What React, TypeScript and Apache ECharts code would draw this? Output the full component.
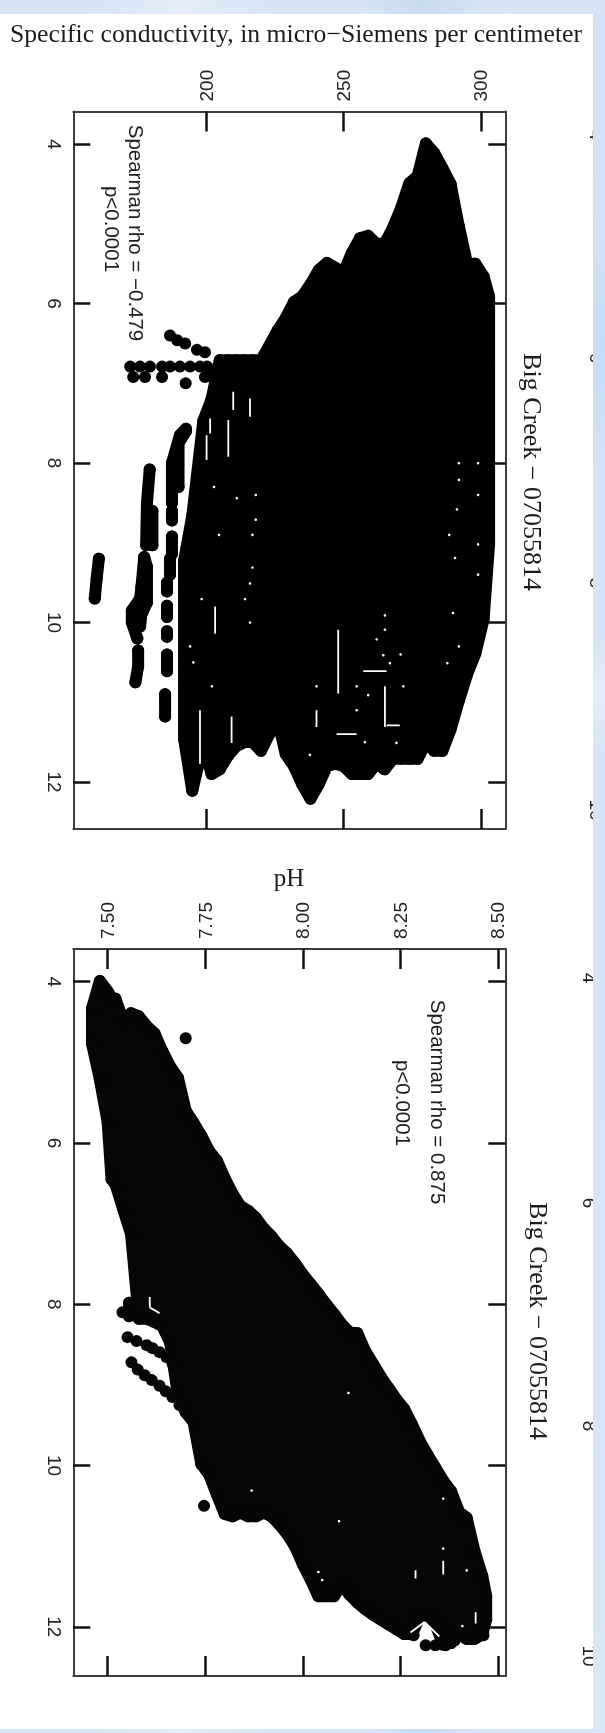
import React, { useEffect, useRef } from "react";
import * as echarts from "echarts";

const titleText = "Specific conductivity, in micro\u2212Siemens per centimeter";
const siteName = "Big Creek \u2212 07055814";
const temperatureTicks = [4, 6, 8, 10, 12];
const conductivityTicks = [200, 250, 300];
const phTicks = [7.5, 7.75, 8, 8.25, 8.5];
const strayLabelsA = ["4", "6", "8", "10"];

// Panel A main mass: [conductivity, temperature from, temperature to]
const panelARuns: number[][] = [
  [192, 9.23, 11.46], [195, 8.66, 12.11], [199, 7.47, 11.52], [202, 7.2, 11.9], [205, 6.71, 11.84],
  [208, 6.71, 11.67], [211, 6.71, 11.55], [214, 6.71, 11.5], [217, 6.71, 11.5], [220, 6.71, 11.61],
  [223, 6.53, 11.4], [226, 6.34, 11.21], [229, 6.18, 11.65], [232, 5.98, 11.8], [235, 5.91, 12.03],
  [238, 5.76, 12.21], [241, 5.58, 12.03], [244, 5.49, 11.8], [247, 5.55, 11.77], [250, 5.61, 11.8],
  [253, 5.37, 11.9], [256, 5.18, 11.9], [259, 5.15, 11.9], [262, 5.25, 11.77], [265, 5.25, 11.84],
  [268, 5.05, 11.71], [271, 4.8, 11.71], [274, 4.49, 11.71], [277, 4.4, 11.71], [280, 3.99, 11.5],
  [283, 4.11, 11.61], [286, 4.3, 11.61], [289, 4.5, 11.34], [292, 5.03, 10.98], [295, 5.5, 10.65],
  [298, 5.5, 10.39], [301, 5.66, 9.96], [303, 5.91, 9.02],
];
// Panel A detached strands of points
const panelAStrands: number[][][] = [
  [[179.5, 8.08], [178.5, 8.5], [178.2, 9.03]],
  [[180.5, 8.6], [180.5, 9.03]],
  [[177.5, 9.18], [178.5, 9.3], [178.5, 9.75], [176.5, 9.9], [176, 10.05]],
  [[177.5, 9.18], [176.5, 9.55], [176, 9.7], [173, 9.85], [173, 10.0], [175, 10.2]],
  [[175.3, 10.35], [175.3, 10.55], [174.3, 10.75]],
  [[192.7, 7.57], [190.5, 7.65], [187.6, 8.0], [187.6, 8.5]],
  [[192.7, 7.6], [190, 7.75], [190, 8.3]],
  [[187.6, 8.6], [187.6, 8.72]],
  [[187.6, 8.92], [187.6, 9.14]],
  [[186.9, 9.2], [186.9, 9.4]],
  [[185.8, 9.5], [185.8, 9.61]],
  [[185.8, 9.79], [185.8, 9.93]],
  [[185.8, 10.11], [185.8, 10.18]],
  [[185.8, 10.4], [185.8, 10.61]],
  [[185.1, 10.9], [185.1, 11.18]],
  [[161, 9.2], [160.2, 9.45], [159.5, 9.7]],
];
const panelADots: number[][] = [
  [186.9, 6.4], [189.5, 6.46], [192.4, 6.5], [196.7, 6.58], [199.6, 6.61],
  [172.4, 6.79], [176, 6.79], [179.6, 6.79], [184, 6.79], [186.9, 6.79], [190.5, 6.79], [194.2, 6.79], [197.8, 6.79], [200.4, 6.79],
  [173.5, 6.92], [177.8, 6.92], [184, 6.92], [199.6, 6.92], [192.6, 7.0], [202.5, 6.85],
];
const panelAGapLines: number[][] = [
  [209.9, 7.106, 209.9, 7.335], [216, 7.19, 216, 7.42], [201.5, 7.44, 201.5, 7.63], [200.2, 7.65, 200.2, 7.96],
  [208.1, 7.46, 208.1, 7.92], [203.3, 9.8, 203.3, 10.14], [197.8, 11.1, 197.8, 11.77], [209.3, 11.18, 209.3, 11.51],
  [240.2, 11.1, 240.2, 11.31], [248.1, 10.09, 248.1, 10.89], [247.5, 11.4, 254.8, 11.4],
  [257.2, 10.61, 265.7, 10.61], [265.1, 10.8, 265.1, 11.31], [265.7, 11.29, 270.5, 11.29],
];
const panelAGapDots: number[][] = [
  [202.9, 8.3], [218.1, 8.4], [211.2, 8.44], [218.1, 8.71], [204.7, 8.9], [216.9, 8.9], [216.9, 9.31],
  [198.4, 9.705], [216, 9.51], [214.2, 9.705], [216, 10], [195.4, 10.5], [194.2, 10.3], [202.1, 10.8],
  [240.2, 10.8], [254.8, 10.8], [259, 10.91], [254.8, 11.1], [269.3, 11.51], [257.8, 11.5],
  [265.1, 9.91], [265.1, 10.09], [262.1, 10.21], [264.5, 10.41], [270.8, 10.4], [266.9, 10.51], [271.8, 10.8], [237.8, 11.66],
  [292, 8], [292, 8.21], [291.3, 8.58], [299, 8], [299, 8.4], [290.6, 9.19], [299, 9.02], [299, 9.4],
  [288.5, 8.9], [289.9, 9.88], [292, 10.3], [287.8, 10.51],
];

// Panel B main mass: [pH, temperature from, temperature to]
const panelBRuns: number[][] = [
  [7.46, 4.33, 4.77], [7.48, 3.99, 5.21], [7.5, 4.12, 5.74], [7.51, 4.2, 6.45], [7.52, 4.21, 6.51],
  [7.54, 4.49, 6.82], [7.56, 4.39, 7.13], [7.58, 4.43, 8.18], [7.6, 4.55, 8.18], [7.62, 4.64, 8.22],
  [7.64, 4.86, 8.27], [7.66, 5.05, 8.47], [7.68, 5.19, 9.12], [7.7, 5.6, 9.34], [7.72, 5.75, 9.46],
  [7.74, 5.91, 9.98], [7.76, 6.1, 10.11], [7.78, 6.22, 10.36], [7.8, 6.44, 10.6], [7.82, 6.63, 10.63],
  [7.84, 6.78, 10.58], [7.86, 6.84, 10.63], [7.88, 6.93, 10.63], [7.9, 7.06, 10.58], [7.92, 7.16, 10.63],
  [7.94, 7.28, 10.73], [7.96, 7.37, 10.85], [7.98, 7.49, 11.0], [8, 7.63, 11.22], [8.02, 7.75, 11.41],
  [8.04, 7.87, 11.62], [8.06, 8.0, 11.62], [8.08, 8.12, 11.62], [8.1, 8.25, 11.47], [8.12, 8.35, 11.6],
  [8.14, 8.36, 11.7], [8.16, 8.58, 11.78], [8.18, 8.74, 11.85], [8.2, 8.9, 11.91], [8.22, 9.04, 11.97],
  [8.24, 9.18, 12.03], [8.26, 9.3, 12.09], [8.28, 9.49, 12.09], [8.3, 9.7, 11.87], [8.32, 9.87, 11.87],
  [8.34, 10.03, 11.97], [8.36, 10.19, 12.22], [8.38, 10.32, 12.2], [8.4, 10.57, 12.09], [8.42, 10.65, 12.15],
  [8.44, 11.06, 12.15], [8.46, 11.37, 12.09], [8.47, 11.62, 11.91],
];
const panelBStrands: number[][][] = [
  [[7.555, 7.98], [7.555, 8.15]],
];
const panelBDots: number[][] = [
  [7.7, 4.7], [7.538, 8.1], [7.747, 10.5],
  [7.551, 8.408], [7.574, 8.457], [7.6, 8.507], [7.615, 8.544], [7.633, 8.594], [7.651, 8.656], [7.666, 8.73],
  [7.561, 8.72], [7.577, 8.81], [7.595, 8.88], [7.613, 8.94], [7.633, 9.01], [7.649, 9.08], [7.666, 9.15], [7.684, 9.25],
  [8.284, 12.105], [8.315, 12.23], [8.34, 12.23], [8.366, 12.23], [8.389, 12.17], [8.463, 12.105],
];
const panelBGapLines: number[][] = [
  [7.608, 7.91, 7.608, 8.04], [7.608, 8.04, 7.633, 8.11], [8.276, 12.07, 8.312, 11.94], [8.312, 11.94, 8.35, 12.12],
  [8.443, 11.82, 8.443, 11.96], [8.36, 11.18, 8.36, 11.35], [8.289, 11.3, 8.289, 11.4],
];
const panelBGapDots: number[][] = [
  [8.409, 11.99], [8.36, 10.41], [8.093, 10.69], [8.117, 9.1], [7.869, 10.31], [8.42, 11.3], [8.36, 11.03], [8.04, 11.32], [8.05, 11.42],
];

const SERIF = "'Liberation Serif', serif";
const SANS = "'Liberation Sans', sans-serif";

function axisPair(index: number, ticks: number[], min: number, max: number, fmt: (v: number) => string) {
  const base = { gridIndex: index, type: "value" as const, min, max, splitLine: { show: false }, axisLine: { show: true, onZero: false, lineStyle: { color: "#3c3c3c", width: 2 } } };
  return [
    {
      ...base, position: "top" as const,
      axisTick: { show: true, inside: true, length: 20, customValues: ticks, lineStyle: { color: "#111", width: 2.5 } },
      axisLabel: { show: true, customValues: ticks, rotate: -90, margin: 10, formatter: fmt, fontFamily: SANS, fontSize: 19, color: "#222" },
    },
    {
      ...base, position: "bottom" as const,
      axisTick: { show: true, inside: true, length: 20, customValues: ticks, lineStyle: { color: "#111", width: 2.5 } },
      axisLabel: { show: false },
    },
  ];
}

function tempAxes(index: number, min: number, max: number) {
  const base = { gridIndex: index, type: "value" as const, min, max, inverse: true, splitLine: { show: false }, axisLine: { show: true, onZero: false, lineStyle: { color: "#3c3c3c", width: 2 } } };
  return [
    {
      ...base, position: "left" as const,
      axisTick: { show: true, inside: true, length: 17, customValues: temperatureTicks, lineStyle: { color: "#111", width: 2.5 } },
      axisLabel: { show: true, customValues: temperatureTicks, rotate: -90, margin: 9, fontFamily: SANS, fontSize: 19, color: "#222" },
    },
    {
      ...base, position: "right" as const,
      axisTick: { show: true, inside: true, length: 17, customValues: temperatureTicks, lineStyle: { color: "#111", width: 2.5 } },
      axisLabel: { show: false },
    },
  ];
}

function panelSeries(i: number, runs: number[][], strands: number[][][], dots: number[][], gapLines: number[][], gapDots: number[][], color: string) {
  const xAxisIndex = i * 2;
  const yAxisIndex = i * 2;
  const lineData: (number | null)[][] = [];
  runs.forEach(([x, a, b]) => lineData.push([x, a], [x, b], [null, null]));
  runs.forEach(([x, a]) => lineData.push([x, a]));
  lineData.push([null, null]);
  runs.forEach(([x, , b]) => lineData.push([x, b]));
  lineData.push([null, null]);
  strands.forEach((s) => { s.forEach((p) => lineData.push(p)); lineData.push([null, null]); });
  const gapData: (number | null)[][] = [];
  gapLines.forEach(([x1, y1, x2, y2]) => gapData.push([x1, y1], [x2, y2], [null, null]));
  const ends: number[][] = [];
  runs.forEach(([x, a, b]) => ends.push([x, a], [x, b]));
  strands.forEach((s) => s.forEach((p) => ends.push(p)));
  return [
    { type: "line", xAxisIndex, yAxisIndex, data: lineData, showSymbol: false, symbol: "none", silent: true, z: 3, lineStyle: { color, width: 12, cap: "round", join: "round" }, connectNulls: false },
    { type: "scatter", xAxisIndex, yAxisIndex, data: [...ends, ...dots], symbolSize: 12, silent: true, z: 4, itemStyle: { color, opacity: 1 } },
    { type: "line", xAxisIndex, yAxisIndex, data: gapData, showSymbol: false, symbol: "none", silent: true, z: 5, lineStyle: { color: "#ffffff", width: 1.8 }, connectNulls: false },
    { type: "scatter", xAxisIndex, yAxisIndex, data: gapDots, symbolSize: 2.6, silent: true, z: 6, itemStyle: { color: "#ffffff", opacity: 1 } },
  ];
}

function rotatedText(text: string, x: number, y: number, fontFamily: string, fontSize: number) {
  return { type: "text", x, y, rotation: -Math.PI / 2, z: 20, style: { text, fontFamily, fontSize, fill: "#1c1c1c", align: "center", verticalAlign: "middle" } };
}

export default function App() {
  const ref = useRef<HTMLDivElement>(null);
  useEffect(() => {
    const chart = echarts.init(ref.current!, undefined, { renderer: "svg" });
    const lblX = (v: number) => String(v);
    const x2 = (v: number) => v.toFixed(2);
    const strayUpper = [135, 358, 583, 810];
    const strayLower = [978, 1203, 1426, 1656];
    chart.setOption({
      animation: false,
      backgroundColor: "#ffffff",
      grid: [
        { left: 73.3, top: 111.5, width: 432, height: 717.5 },
        { left: 73.3, top: 949, width: 432, height: 727 },
      ],
      xAxis: [...axisPair(0, conductivityTicks, 151.7, 308.9, lblX), ...axisPair(1, phTicks, 7.412, 8.519, x2)],
      yAxis: [...tempAxes(0, 3.59, 12.59), ...tempAxes(1, 3.594, 12.61)],
      series: [
        ...panelSeries(0, panelARuns, panelAStrands, panelADots, panelAGapLines, panelAGapDots, "#000000"),
        ...panelSeries(1, panelBRuns, panelBStrands, panelBDots, panelBGapLines, panelBGapDots, "#060608"),
      ],
      graphic: [
        { type: "text", x: 296, y: 33, z: 20, style: { text: titleText, fontFamily: SERIF, fontSize: 25.7, fill: "#1c1c1c", align: "center", verticalAlign: "middle" } },
        { type: "text", x: 289, y: 877, z: 20, style: { text: "pH", fontFamily: SERIF, fontSize: 25, fill: "#1c1c1c", align: "center", verticalAlign: "middle" } },
        rotatedText(siteName, 532, 472, SERIF, 26),
        rotatedText(siteName, 538, 1321, SERIF, 26),
        rotatedText("Spearman rho = \u22120.479", 136, 233, SANS, 20.5),
        rotatedText("p<0.0001", 112, 229, SANS, 20.5),
        rotatedText("Spearman rho = 0.875", 438, 1102, SANS, 20.5),
        rotatedText("p<0.0001", 403, 1103, SANS, 20.5),
        ...strayLabelsA.map((t, i) => rotatedText(t, 596, strayUpper[i], SANS, 19)),
        ...strayLabelsA.map((t, i) => rotatedText(t, 589, strayLower[i], SANS, 19)),
      ],
    });
    return () => chart.dispose();
  }, []);
  const mottled =
    "radial-gradient(ellipse 90px 60px at 30% 40%, rgba(235,240,250,0.7), transparent)," +
    "radial-gradient(ellipse 60px 120px at 70% 20%, rgba(190,215,240,0.6), transparent)," +
    "linear-gradient(#d3e3f5, #d8e6f6)";
  const strip = (style: React.CSSProperties) => (
    <div style={{ position: "absolute", background: mottled, ...style }} />
  );
  return (
    <div style={{ position: "absolute", left: 0, top: 0, width: 605, height: 1733, overflow: "hidden", filter: "blur(0.55px)" }}>
      <div ref={ref} style={{ position: "absolute", left: 0, top: 0, width: 605, height: 1733 }} />
      {strip({ left: 593, top: 0, width: 12, height: 1733 })}
      {strip({ left: 0, top: 0, width: 605, height: 14 })}
      {strip({ left: 0, top: 1729, width: 605, height: 4 })}
    </div>
  );
}
